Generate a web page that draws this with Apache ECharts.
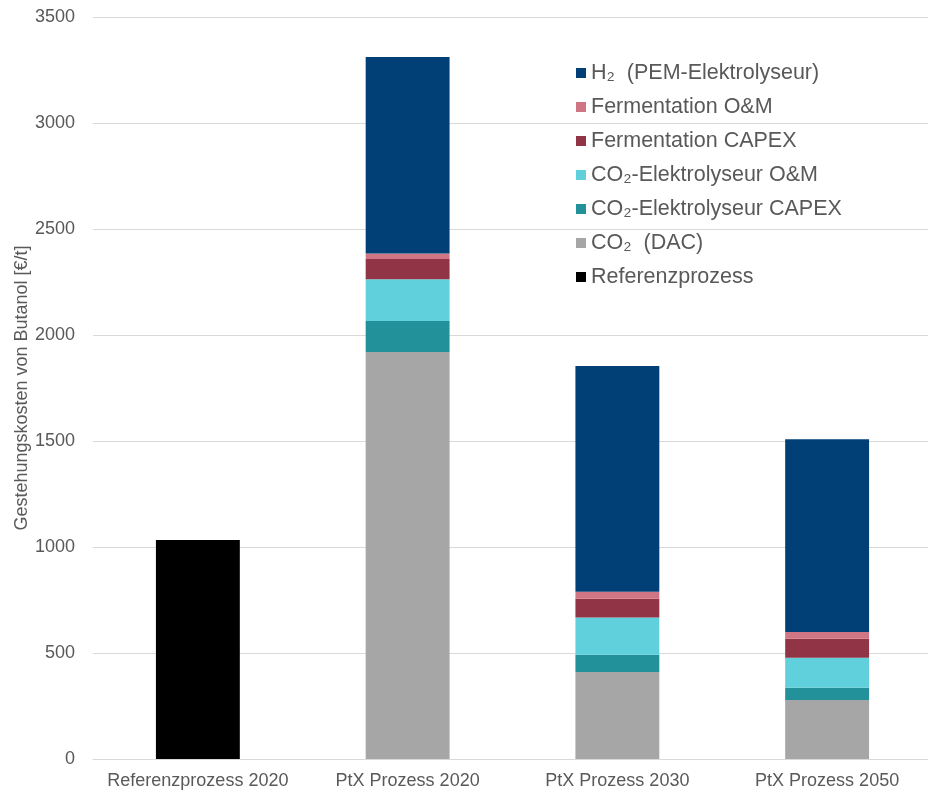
<!DOCTYPE html>
<html>
<head>
<meta charset="utf-8">
<script src="https://cdn.jsdelivr.net/npm/echarts@6/dist/echarts.min.js"></script>
<style>
  html, body { margin: 0; padding: 0; background: #fff; }
  #chart { width: 928px; height: 793px; }
</style>
</head>
<body>
<div id="chart"></div>
<script>
// Kategorien
const categories = ['Referenzprozess 2020', 'PtX Prozess 2020', 'PtX Prozess 2030', 'PtX Prozess 2050'];

// Werte je Kostenanteil [€/t]
const referenz     = [1033, null, null, null];
const co2Dac       = [null, 1920, 410, 278];
const co2ElCapex   = [null, 146, 82, 58];
const co2ElOM      = [null, 197, 176, 142];
const fermCapex    = [null, 95, 88, 89];
const fermOM       = [null, 27, 33, 32];
const h2Pem        = [null, 926, 1065, 909];

const yTicks = { min: 0, max: 3500, interval: 500 };

const names = {
  h2: 'H₂  (PEM-Elektrolyseur)',
  fermOM: 'Fermentation O&M',
  fermCapex: 'Fermentation CAPEX',
  co2OM: 'CO₂-Elektrolyseur O&M',
  co2Capex: 'CO₂-Elektrolyseur CAPEX',
  dac: 'CO₂  (DAC)',
  ref: 'Referenzprozess'
};

const chart = echarts.init(document.getElementById('chart'));

function bar(name, data, color) {
  return {
    name: name,
    type: 'bar',
    stack: 'kosten',
    barWidth: '40%',
    data: data,
    itemStyle: { color: color },
    emphasis: { disabled: true }
  };
}

const option = {
  animation: false,
  textStyle: { fontFamily: 'Liberation Sans, Arial, sans-serif' },
  grid: { left: 93, right: -4, top: 17, bottom: 34, containLabel: false, outerBoundsMode: 'none' },
  legend: {
    orient: 'vertical',
    left: 571,
    top: 57,
    itemWidth: 10,
    itemHeight: 10,
    itemGap: 12,
    icon: 'rect',
    textStyle: { fontSize: 21.5, color: '#595959' },
    data: [names.h2, names.fermOM, names.fermCapex, names.co2OM, names.co2Capex, names.dac, names.ref]
  },
  xAxis: {
    type: 'category',
    data: categories,
    axisLine: { lineStyle: { color: '#d9d9d9' } },
    axisTick: { show: false },
    axisLabel: { fontSize: 18, color: '#595959', margin: 13, interval: 0 }
  },
  yAxis: {
    type: 'value',
    min: yTicks.min,
    max: yTicks.max,
    interval: yTicks.interval,
    name: 'Gestehungskosten von Butanol [€/t]',
    nameLocation: 'middle',
    nameGap: 62,
    nameMoveOverlap: false,
    nameTextStyle: { fontSize: 18, color: '#595959' },
    axisLabel: { fontSize: 18, color: '#595959', margin: 18, formatter: v => String(v) },
    splitLine: { lineStyle: { color: '#d9d9d9' } }
  },
  series: [
    bar(names.ref, referenz, '#000000'),
    bar(names.dac, co2Dac, '#a6a6a6'),
    bar(names.co2Capex, co2ElCapex, '#23919a'),
    bar(names.co2OM, co2ElOM, '#5fd0dc'),
    bar(names.fermCapex, fermCapex, '#913446'),
    bar(names.fermOM, fermOM, '#d07584'),
    bar(names.h2, h2Pem, '#004077')
  ]
};

chart.setOption(option);
</script>
</body>
</html>
